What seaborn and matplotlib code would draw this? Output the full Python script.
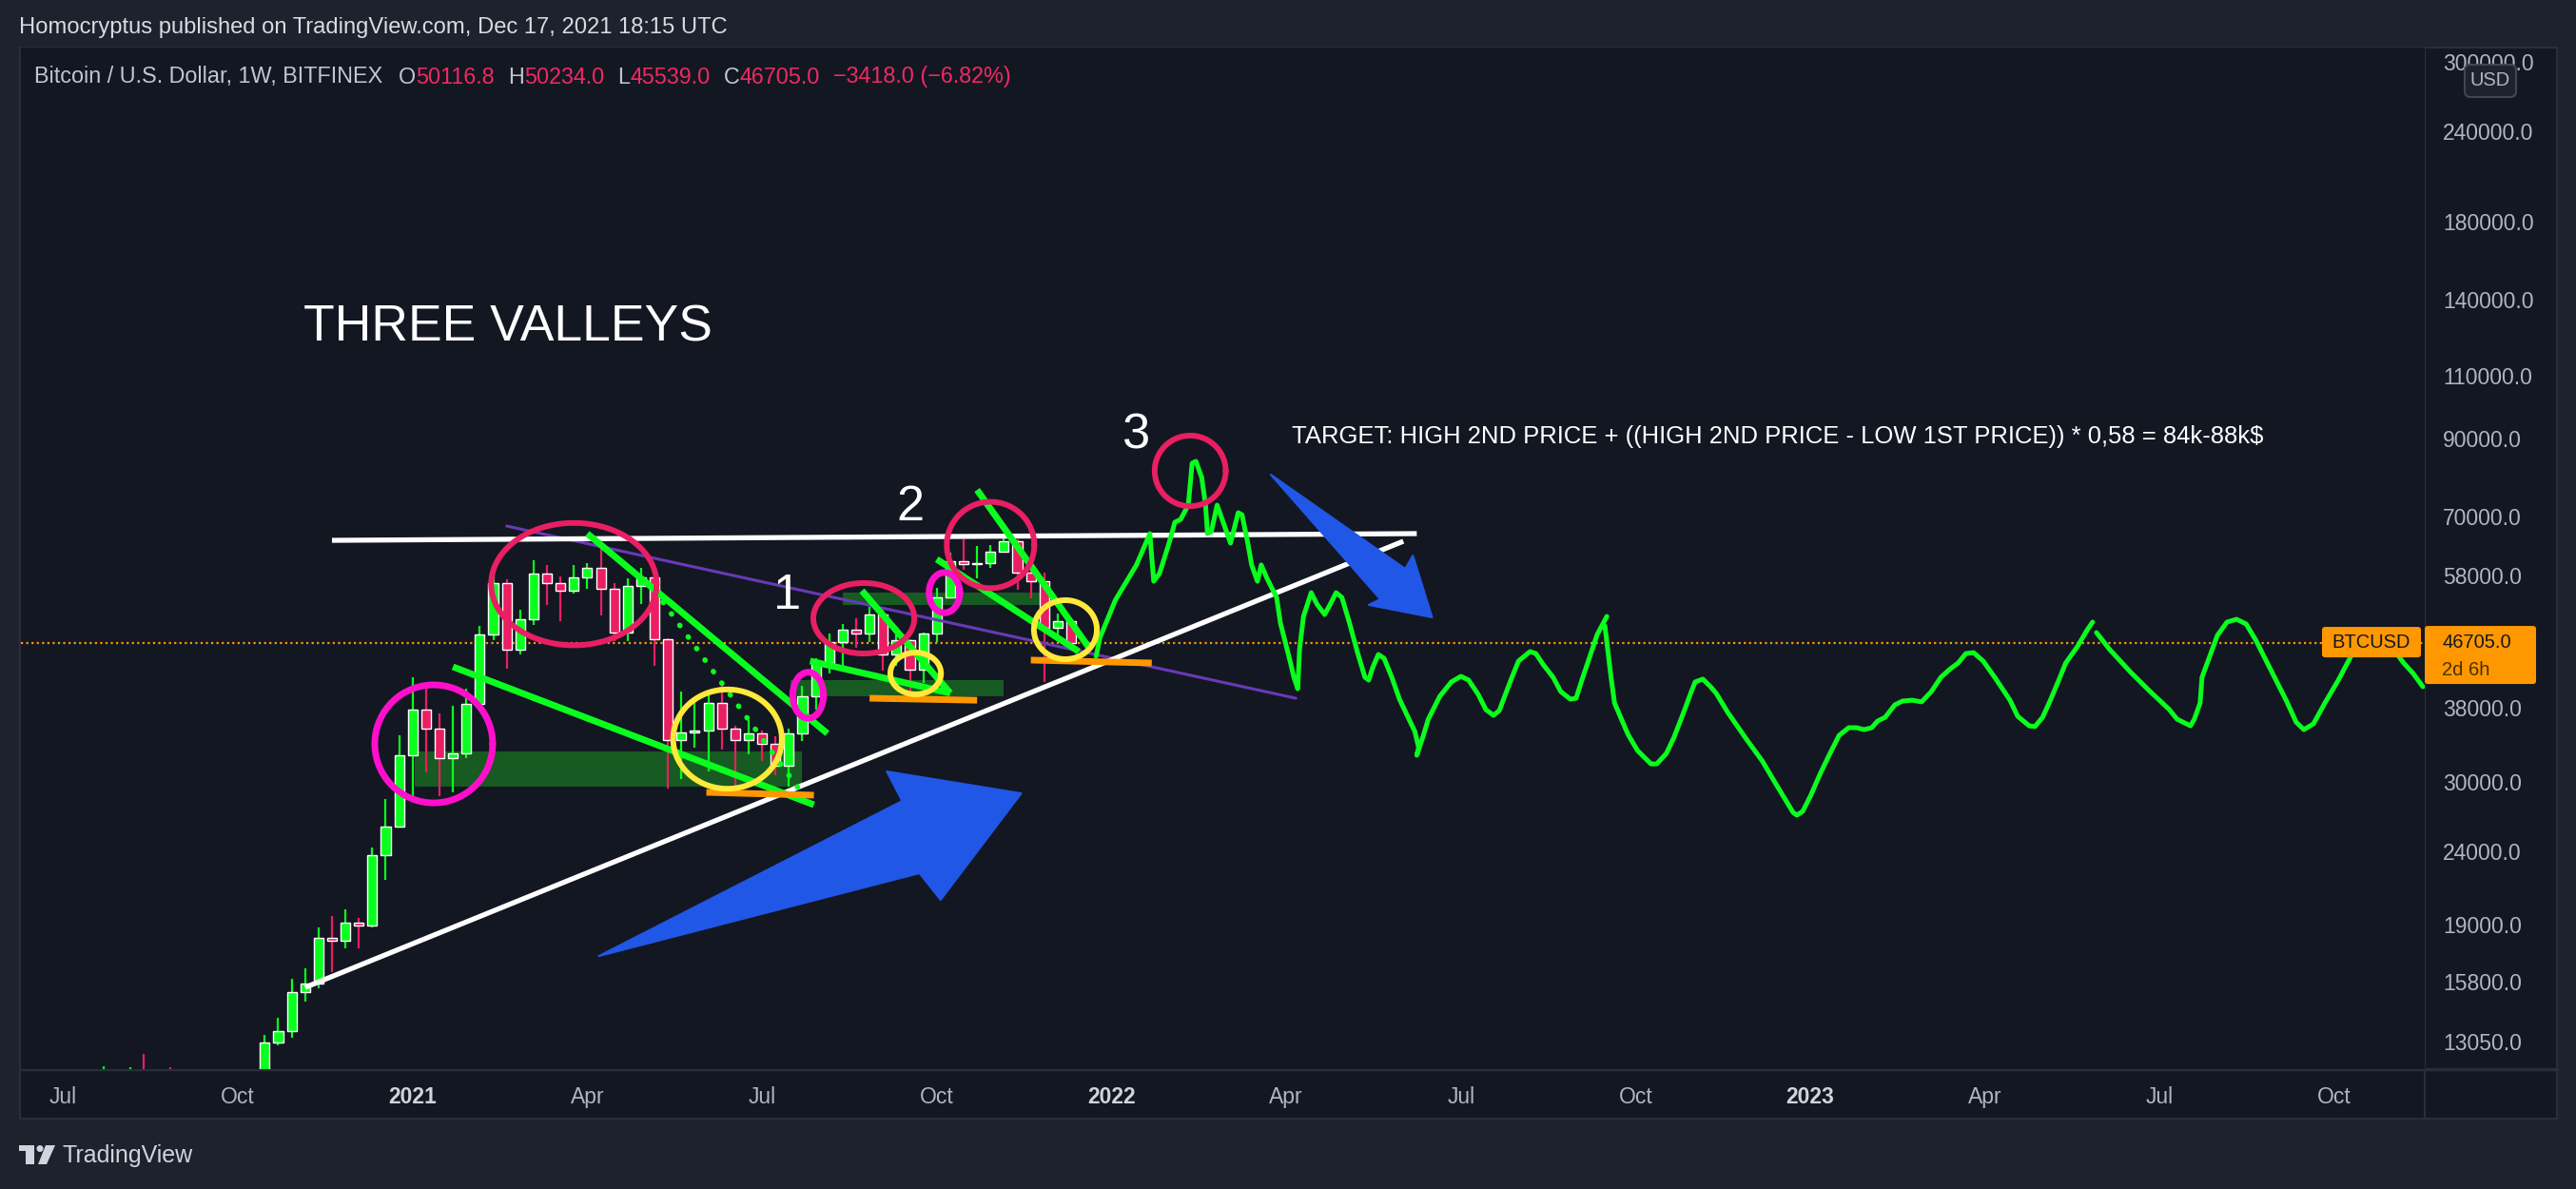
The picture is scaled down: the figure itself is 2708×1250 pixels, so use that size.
import numpy as np
import pandas as pd
import matplotlib
matplotlib.use("Agg")
import matplotlib.pyplot as plt
import matplotlib.dates as mdates
from matplotlib import font_manager
from matplotlib.patches import Rectangle, FancyBboxPatch, Polygon, Circle
from matplotlib.ticker import FixedLocator, FixedFormatter, NullLocator
import seaborn as sns

# DATA
# weekly BTCUSD candles (Bitfinex), first bar = week of 2020-07-06
opens = [9250, 9300, 9170, 9930, 11100, 11680, 11850, 11660, 11700, 10250, 10330, 10940, 10780,
         10670, 11370, 11500, 13030, 13500, 15300, 15700, 18200, 18000, 19100, 18900, 23700, 26000,
         32600, 37700, 35500, 32300, 32800, 38500, 48000, 56600, 45700, 50400, 58300, 56600, 55200,
         57600, 59400, 55600, 48300, 56100, 57600, 47300, 34200, 35100, 35300, 38600, 35500, 34200,
         35000, 33800, 31500, 35000, 39400, 43800, 46900, 48800, 48100, 51200, 45000, 47100, 42900,
         48200, 54100, 60700, 60100, 60300, 62600, 64600, 58600, 57000, 49000, 50116.8]
highs = [9450, 9330, 10150, 12060, 11900, 12030, 12560, 11800, 12030, 10600, 11150, 10960, 10950,
         11490, 11730, 13350, 14090, 15960, 16480, 18800, 19500, 19900, 19400, 24300, 28400, 34800,
         41900, 40900, 37300, 38200, 40400, 49400, 58400, 57200, 52000, 60800, 60000, 57800, 59900,
         60400, 63800, 56600, 57500, 59400, 59600, 47400, 40000, 39200, 39800, 40800, 35900, 36500,
         35300, 34700, 35500, 40700, 44500, 48200, 49700, 50500, 52400, 52300, 48500, 47300, 48300,
         55800, 62300, 65000, 63700, 63900, 65200, 65000, 59800, 58500, 51400, 50234.0]
lows = [9050, 9050, 9130, 9900, 10950, 11150, 11550, 11150, 9900, 9880, 10200, 10140, 10370,
        10530, 11200, 11420, 12900, 13200, 14850, 15500, 16300, 17600, 17600, 18800, 21900, 25900,
        28300, 30900, 28600, 29000, 32300, 37900, 47100, 43000, 45000, 49500, 52800, 50100, 54700,
        55600, 51000, 47000, 47000, 53000, 43400, 29300, 30200, 33400, 31000, 33200, 29300, 32700,
        32000, 30600, 29500, 34100, 37800, 42400, 43400, 46000, 46800, 42800, 43400, 40000, 41100,
        46900, 53900, 59000, 57500, 59400, 62300, 55400, 53900, 41200, 47600, 45539.0]
closes = [9300, 9170, 9930, 11100, 11680, 11850, 11660, 11700, 10250, 10330, 10940, 10780, 10670,
          11370, 11500, 13030, 13500, 15300, 15700, 18200, 18000, 19100, 18900, 23700, 26000, 32600,
          37700, 35500, 32300, 32800, 38500, 48000, 56600, 45700, 50400, 58300, 56600, 55200, 57600,
          59400, 55600, 48300, 56100, 57600, 47300, 34200, 35100, 35300, 38600, 35500, 34200, 35000,
          33800, 31500, 35000, 39400, 43800, 46900, 48800, 48100, 51200, 45000, 47100, 42900, 48200,
          54100, 60700, 60100, 60300, 62600, 64600, 58600, 57000, 49000, 50123, 46705.0]

# hand-drawn projection (three pen strokes)
proj_dates = [
    "2021-12-26", "2021-12-28", "2022-01-05", "2022-01-16", "2022-01-23", "2022-01-25", "2022-01-28",
    "2022-02-02", "2022-02-05", "2022-02-08", "2022-02-12", "2022-02-14", "2022-02-16", "2022-02-19",
    "2022-02-21", "2022-02-22", "2022-02-24", "2022-02-27", "2022-03-02", "2022-03-06", "2022-03-10",
    "2022-03-12", "2022-03-15", "2022-03-17", "2022-03-20", "2022-03-22", "2022-03-25", "2022-03-30",
    "2022-04-01", "2022-04-06", "2022-04-08", "2022-04-10", "2022-04-11", "2022-04-13", "2022-04-17",
    "2022-04-20", "2022-04-24", "2022-04-27", "2022-04-30", "2022-05-03", "2022-05-07", "2022-05-11",
    "2022-05-15", "2022-05-17", "2022-05-19", "2022-05-22", "2022-05-25", "2022-05-29", "2022-06-02",
    "2022-06-06", "2022-06-10", "2022-06-12", "2022-06-11", "2022-06-14", "2022-06-17", "2022-06-23",
    "2022-06-29", "2022-07-04", "2022-07-08", "2022-07-13", "2022-07-17", "2022-07-21", "2022-07-24",
    "2022-07-30", "2022-08-03", "2022-08-09", "2022-08-12", "2022-08-16", "2022-08-21", "2022-08-25",
    "2022-08-30", "2022-09-02", "2022-09-05", "2022-09-10", "2022-09-13", "2022-09-18",
    "2022-09-17", "2022-09-20", "2022-09-22", "2022-09-29", "2022-10-04", "2022-10-11", "2022-10-14",
    "2022-10-19", "2022-10-23", "2022-10-28", "2022-11-01", "2022-11-03", "2022-11-07", "2022-11-11",
    "2022-11-14", "2022-11-20", "2022-11-30", "2022-12-08", "2022-12-15", "2022-12-21", "2022-12-24",
    "2022-12-26", "2022-12-29", "2023-01-02", "2023-01-07", "2023-01-12", "2023-01-17", "2023-01-22",
    "2023-01-26", "2023-01-30", "2023-02-03", "2023-02-06", "2023-02-10", "2023-02-15", "2023-02-19",
    "2023-02-24", "2023-03-01", "2023-03-06", "2023-03-11", "2023-03-16", "2023-03-20", "2023-03-24",
    "2023-03-28", "2023-04-02", "2023-04-08", "2023-04-16", "2023-04-20", "2023-04-26", "2023-04-29",
    "2023-05-03", "2023-05-07", "2023-05-11", "2023-05-15", "2023-05-21", "2023-05-26", "2023-05-29",
    "2023-05-31", "2023-06-07", "2023-06-18", "2023-06-28", "2023-07-08", "2023-07-12", "2023-07-19",
    "2023-07-21", "2023-07-24", "2023-07-25", "2023-07-29", "2023-08-02", "2023-08-07", "2023-08-12",
    "2023-08-17", "2023-08-22", "2023-08-30", "2023-09-07", "2023-09-12", "2023-09-16", "2023-09-21",
    "2023-09-27", "2023-10-04", "2023-10-10", "2023-10-15", "2023-10-21", "2023-10-30", "2023-11-07",
    "2023-11-12", "2023-11-17"]
proj_prices = [
    44760, 47500, 53570, 59970, 66290, 56920, 58330,
    64310, 68740, 69370, 72610, 83030, 83530, 79330,
    72610, 66290, 66690, 72610, 68960, 64310, 70870,
    70430, 64310, 59970, 56920, 59970, 57450, 54050,
    49780, 44100, 41870, 40360, 45870, 50860, 54880,
    52910, 51170, 52910, 54880, 54050, 49780, 45450,
    41870, 41490, 43150, 45030, 44480, 41870, 39030,
    37060, 35200, 33420, 32620, 34450, 36610, 39390,
    41240, 41990, 41490, 39630, 37750, 37060, 37640,
    41490, 44100, 45450, 45170, 43550, 41870, 39990,
    39030, 39150, 41490, 45450, 48010, 50860,
    49340, 42250, 38560, 34880, 33110, 31730, 31730,
    32810, 34560, 37410, 39990, 41240, 41620, 40620,
    39760, 37410, 34250, 32020, 29770, 28010, 27170,
    26930, 27260, 28610, 30690, 32720, 34770, 35630,
    35630, 35410, 35630, 36390, 36840, 38330, 38800,
    38900, 38700, 39990, 41870, 43030, 43820, 45170,
    45300, 44100, 41870, 38900, 36950, 35840, 35760,
    36840, 38900, 41240, 43820, 46140, 48610, 49950,
    48300, 45720, 42500, 39990, 37750, 36610, 35840,
    36610, 38560, 41870, 44760, 47860, 49950, 50400,
    49640, 47150, 42770, 38800, 36280, 35410, 36060,
    38560, 41490, 44480, 47290, 48750, 46850, 43820,
    42370, 40620]
proj_stroke = [1] * 76 + [2] * 56 + [3] * 30

# trend lines drawn on the chart: (start date, start price, end date, end price)
white_lines = [("2020-11-23", 64880, "2022-06-11", 66290),
               ("2020-11-09", 15520, "2022-06-04", 64690)]
purple_lines = [("2021-02-22", 67920, "2022-04-09", 39150)]
green_lines = [("2021-01-25", 43290, "2021-08-01", 27840),
               ("2021-04-05", 66290, "2021-08-08", 34980),
               ("2021-07-30", 44100, "2021-10-11", 39800),
               ("2021-08-26", 55230, "2021-10-11", 39800),
               ("2021-10-25", 76240, "2021-12-22", 46140),
               ("2021-10-04", 61070, "2021-12-17", 45450)]
dotted_lines = [("2021-05-10", 55230, "2021-07-24", 29330)]
orange_lines = [("2021-06-06", 28970, "2021-08-01", 28710),
                ("2021-08-30", 39150, "2021-10-25", 38900),
                ("2021-11-22", 44230, "2022-01-24", 43820)]
# shaded zones: (from, to, low, high)
zones = [("2021-01-05", "2021-07-26", 29500, 33010),
         ("2021-07-20", "2021-11-08", 39390, 41490),
         ("2021-08-16", "2021-12-01", 52770, 54880)]
# circles: centre date, centre price, colour
circle_dates = ["2021-01-15", "2021-03-29", "2021-06-17", "2021-08-27", "2021-09-23",
                "2021-07-29", "2021-10-08", "2021-11-01", "2021-12-10", "2022-02-13"]
circle_prices = [33830, 56400, 34350, 50560, 42380, 39520, 54880, 63920, 48750, 81030]
circle_kind = ["magenta", "red", "yellow", "red", "yellow", "magenta", "magenta", "red", "yellow", "red"]
# half-widths in days / half-heights in log10 units
circle_rx = [30.7, 43.1, 28.3, 26.3, 13.2, 8.0, 8.0, 22.8, 16.4, 18.5]
circle_ry = [0.082, 0.085, 0.069, 0.049, 0.029, 0.032, 0.028, 0.060, 0.041, 0.049]
# blue arrows (outline vertices)
arrow_up_dates = ["2021-04-11", "2021-09-16", "2021-09-08", "2021-11-17", "2021-10-06", "2021-09-25"]
arrow_up_prices = [17160, 28180, 30970, 28880, 20540, 22370]
arrow_down_dates = ["2022-03-27", "2022-06-05", "2022-06-09", "2022-06-19", "2022-05-17", "2022-05-23"]
arrow_down_prices = [80050, 59230, 61800, 50720, 52770, 53740]

labels_text = ["1", "2", "3"]
labels_dates = ["2021-07-18", "2021-09-20", "2022-01-16"]
labels_prices = [54390, 72180, 90710]
title_text = "THREE VALLEYS"
title_anchor = ("2020-11-08", 128300)
target_text = "TARGET: HIGH 2ND PRICE + ((HIGH 2ND PRICE - LOW 1ST PRICE)) * 0,58 = 84k-88k$"
target_anchor = ("2022-04-07", 90420)

price_ticks = [13050, 15800, 19000, 24000, 30000, 38000, 58000, 70000, 90000,
               110000, 140000, 180000, 240000, 300000]
time_ticks = ["2020-07-06", "2020-10-05", "2021-01-04", "2021-04-05", "2021-07-05", "2021-10-04",
              "2022-01-03", "2022-04-04", "2022-07-04", "2022-10-03", "2023-01-02", "2023-04-03",
              "2023-07-03", "2023-10-02"]
time_labels = ["Jul", "Oct", "2021", "Apr", "Jul", "Oct", "2022", "Apr", "Jul", "Oct", "2023",
               "Apr", "Jul", "Oct"]

# STYLE
BG = "#131722"
OUTER = "#1e222d"
BORDER = "#2a2e39"
TXT = "#b2b5be"
UP = "#0aff1e"
DOWN = "#e91e63"
RING = {"magenta": "#ff0fcc", "red": "#e91e63", "yellow": "#ffe93b"}

sns.set_style("dark", {"axes.facecolor": BG})
names = {f.name for f in font_manager.fontManager.ttflist}
plt.rcParams["font.family"] = ["Liberation Sans", "DejaVu Sans"]
narrow = "Liberation Sans Narrow" if "Liberation Sans Narrow" in names else "Liberation Sans"
nscale = 1.0 if narrow == "Liberation Sans Narrow" else 0.82

W, H = 2708, 1250
fig = plt.figure(figsize=(W / 100, H / 100), dpi=100, facecolor=OUTER)

# panel chrome (pixel coordinates)
ui = fig.add_axes([0, 0, 1, 1], zorder=0)
ui.set_xlim(0, W)
ui.set_ylim(H, 0)
ui.axis("off")
ui.add_patch(Rectangle((21, 50), 2688 - 21, 1176 - 50, facecolor=BG, edgecolor=BORDER, lw=1.5))
ui.plot([2549, 2549], [50, 1176], color=BORDER, lw=1.5)
ui.plot([21, 2688], [1124, 1124], color=BORDER, lw=2.5)

ax = fig.add_axes([22 / W, (H - 1124) / H, (2549 - 22) / W, (1124 - 50) / H], zorder=2)
ax.set_facecolor(BG)


def dnum(d):
    return mdates.date2num(pd.Timestamp(d))


# zones
for d0, d1, lo, hi in zones:
    ax.add_patch(Rectangle((dnum(d0), lo), dnum(d1) - dnum(d0), hi - lo,
                           facecolor="#175a22", edgecolor="none", zorder=1))

# candles
o = np.array(opens)
h = np.array(highs)
l = np.array(lows)
c = np.array(closes)
xw = mdates.date2num(pd.date_range("2020-07-06", periods=len(opens), freq="7D"))
cols = np.where(c >= o, UP, DOWN)
ax.vlines(xw, l, h, colors=cols, lw=1.6, zorder=3)
body = np.maximum(np.abs(c - o), o * 0.004)
ax.bar(xw, body, bottom=np.minimum(o, c), width=5.0, color=cols, zorder=3)

# last price line
ax.axhline(c[-1], color="#ff9800", lw=1.6, ls=(0, (1, 1.5)), zorder=2)

# trend lines
for d0, p0, d1, p1 in purple_lines:
    ax.plot([dnum(d0), dnum(d1)], [p0, p1], color="#673ab7", lw=2.2, zorder=4)
for d0, p0, d1, p1 in white_lines:
    ax.plot([dnum(d0), dnum(d1)], [p0, p1], color="white", lw=3.8, zorder=4,
            solid_capstyle="butt")
for d0, p0, d1, p1 in green_lines:
    ax.plot([dnum(d0), dnum(d1)], [p0, p1], color=UP, lw=5.0, zorder=5,
            solid_capstyle="butt")
for d0, p0, d1, p1 in dotted_lines:
    ax.plot([dnum(d0), dnum(d1)], [p0, p1], color=UP, lw=4.0, zorder=5,
            ls=(0, (0.1, 2.6)), dash_capstyle="round")
for d0, p0, d1, p1 in orange_lines:
    ax.plot([dnum(d0), dnum(d1)], [p0, p1], color="#ff9800", lw=5.0, zorder=5,
            solid_capstyle="butt")

# projection path
proj = pd.DataFrame({"x": [dnum(d) for d in proj_dates], "price": proj_prices,
                     "stroke": proj_stroke})
sns.lineplot(data=proj, x="x", y="price", units="stroke", estimator=None, sort=False,
             color=UP, lw=3.6, ax=ax, legend=False, zorder=5)

# circles
t = np.linspace(0, 2 * np.pi, 240)
for d, p, k, rx, ry in zip(circle_dates, circle_prices, circle_kind, circle_rx, circle_ry):
    ax.plot(dnum(d) + rx * np.cos(t), 10 ** (np.log10(p) + ry * np.sin(t)),
            color=RING[k], lw=5.0 if k == "magenta" else 4.3, zorder=6)

# arrows
for ds, ps in [(arrow_up_dates, arrow_up_prices), (arrow_down_dates, arrow_down_prices)]:
    ax.add_patch(Polygon(list(zip([dnum(d) for d in ds], ps)), closed=True,
                         facecolor="#2157e6", edgecolor="#2157e6", lw=1.5,
                         joinstyle="round", zorder=6))

# drawing texts
ax.text(dnum(title_anchor[0]), title_anchor[1], title_text, color="white",
        fontsize=47 * nscale, family=narrow, ha="left", va="center", zorder=7)
for s, d, p in zip(labels_text, labels_dates, labels_prices):
    ax.text(dnum(d), p, s, color="white", fontsize=46 * nscale, family=narrow,
            ha="center", va="center", zorder=7)
ax.text(dnum(target_anchor[0]), target_anchor[1], target_text, color="white",
        fontsize=22.5 * nscale, family=narrow, ha="left", va="center", zorder=7)

# axes
ax.set_yscale("log")
ax.set_ylim(11950, 313900)
ax.set_xlim(dnum("2020-06-14"), dnum("2023-11-18"))
ax.set_xlabel("")
ax.set_ylabel("")
ax.yaxis.tick_right()
ax.yaxis.set_major_locator(FixedLocator(price_ticks))
ax.yaxis.set_major_formatter(FixedFormatter([f"{v:.1f}" for v in price_ticks]))
ax.yaxis.set_minor_locator(NullLocator())
ax.tick_params(axis="y", length=0, pad=13.5, labelsize=16.5, labelcolor=TXT)
ax.set_xticks([dnum(d) for d in time_ticks])
ax.set_xticklabels(time_labels)
ax.xaxis.set_minor_locator(NullLocator())
ax.tick_params(axis="x", length=0, pad=13, labelsize=16.5, labelcolor=TXT)
for lab in ax.get_xticklabels():
    if lab.get_text().isdigit():
        lab.set_fontweight("bold")
        lab.set_color("#d1d4dc")
ax.grid(False)
for sp in ax.spines.values():
    sp.set_visible(False)

# overlay: legend, tags, header, footer (pixel coordinates)
ov = fig.add_axes([0, 0, 1, 1], zorder=10)
ov.set_xlim(0, W)
ov.set_ylim(H, 0)
ov.axis("off")
ov.patch.set_alpha(0)

ov.text(20, 29, "Homocryptus published on TradingView.com, Dec 17, 2021 18:15 UTC",
        color="#d8dbe2", fontsize=17.1, va="center", ha="left")

renderer = fig.canvas.get_renderer()
chg = c[-1] - c[-2]
GRAY = "#c3c6ce"
RED = "#ee2a62"
parts = [("Bitcoin / U.S. Dollar, 1W, BITFINEX", GRAY, 17),
         ("O", GRAY, 0), (f"{o[-1]:.1f}", RED, 14),
         ("H", GRAY, 0), (f"{h[-1]:.1f}", RED, 14),
         ("L", GRAY, 0), (f"{l[-1]:.1f}", RED, 14),
         ("C", GRAY, 0), (f"{c[-1]:.1f}", RED, 14),
         (f"{chg:.1f} ({chg / c[-2] * 100:.2f}%)".replace("-", "\u2212"), RED, 0)]
xpos = 36
for s, col, gap in parts:
    tx = ov.text(xpos, 81, s, color=col, fontsize=16.8, va="center", ha="left")
    xpos += tx.get_window_extent(renderer).width + gap

# last price position through the axis scale
ypx = H - ax.transData.transform((ax.get_xlim()[0], c[-1]))[1]
ov.add_patch(FancyBboxPatch((2441, ypx - 17), 104, 32, boxstyle="round,pad=0,rounding_size=3",
                            facecolor="#ff9800", edgecolor="none"))
ov.text(2493, ypx - 1, "BTCUSD", color="#131722", fontsize=14.5, ha="center", va="center")
ov.add_patch(FancyBboxPatch((2549, ypx - 18), 117, 61, boxstyle="round,pad=0,rounding_size=3",
                            facecolor="#ff9800", edgecolor="none"))
ov.text(2567, ypx - 1, f"{c[-1]:.1f}", color="#131722", fontsize=14.5, ha="left", va="center")
ov.text(2567, ypx + 28, "2d 6h", color="#4a3000", fontsize=14.5, ha="left", va="center")

ov.add_patch(FancyBboxPatch((2591, 68), 54, 34, boxstyle="round,pad=0,rounding_size=6",
                            facecolor="#1e222d", edgecolor="#434651", lw=1.5))
ov.text(2618, 85, "USD", color=TXT, fontsize=14.5, ha="center", va="center")

# footer logo
LOGO = "#d1d4dc"
ov.add_patch(Rectangle((20, 1204), 16, 6, facecolor=LOGO, edgecolor="none"))
ov.add_patch(Rectangle((27, 1204), 9, 20, facecolor=LOGO, edgecolor="none"))
ov.add_patch(Circle((42, 1207.5), 3.5, facecolor=LOGO, edgecolor="none"))
ov.add_patch(Polygon([(48, 1204), (58, 1204), (49, 1224), (40, 1224)], facecolor=LOGO,
                     edgecolor="none"))
ov.text(66, 1215, "TradingView", color=LOGO, fontsize=18, ha="left", va="center")

fig.savefig("out.png", dpi=100, facecolor=fig.get_facecolor())
